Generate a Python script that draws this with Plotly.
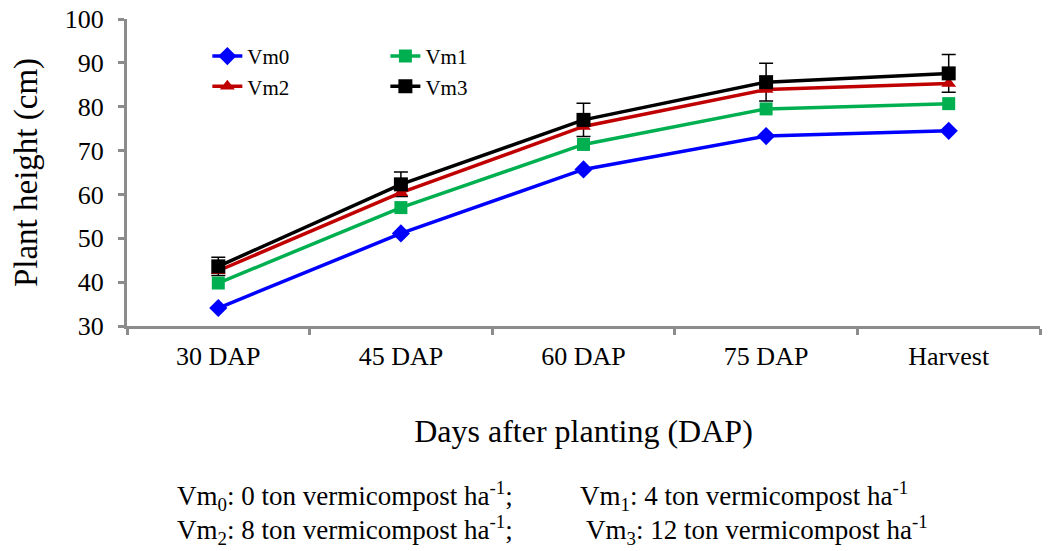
import plotly.graph_objects as go

categories = ["30 DAP", "45 DAP", "60 DAP", "75 DAP", "Harvest"]
vm0 = [34.1, 51.1, 65.7, 73.3, 74.5]
vm1 = [39.8, 57.0, 71.4, 79.5, 80.7]
vm2 = [42.6, 60.4, 75.5, 83.9, 85.3]
vm3 = [43.6, 62.3, 77.0, 85.6, 87.6]
vm3_err = [2.1, 2.8, 3.8, 4.3, 4.3]

FONT = "Liberation Serif, Times New Roman, serif"
AXIS_GRAY = "#8c8c8c"

series = [
    ("Vm0", vm0, "#0000ff", "diamond", 14, "legend"),
    ("Vm1", vm1, "#00b050", "square", 13, "legend2"),
    ("Vm2", vm2, "#c00000", "triangle-up", 13, "legend"),
    ("Vm3", vm3, "#000000", "square", 14, "legend2"),
]

fig = go.Figure()

# error bars of Vm3 (drawn beneath the lines)
fig.add_trace(go.Scatter(
    x=categories, y=vm3, mode="markers",
    marker=dict(size=1, color="rgba(0,0,0,0)"),
    error_y=dict(type="data", array=vm3_err, color="black", thickness=1.5, width=7),
    showlegend=False, hoverinfo="skip",
))

for name, vals, color, sym, size, leg in series:
    fig.add_trace(go.Scatter(
        x=categories, y=vals, name=name, mode="lines+markers",
        line=dict(color=color, width=3.5),
        marker=dict(symbol=sym, size=size, color=color),
        legend=leg,
    ))

legend_common = dict(
    font=dict(family=FONT, size=21, color="black"),
    bgcolor="rgba(0,0,0,0)", orientation="v",
    yanchor="top", xanchor="left", tracegroupgap=0, itemwidth=30,
)

fig.update_layout(
    width=1054, height=551,
    margin=dict(l=127, r=14, t=19, b=225, autoexpand=False),
    paper_bgcolor="white", plot_bgcolor="white",
    font=dict(family=FONT, color="black"),
    legend=dict(x=0.088, y=0.945, **legend_common),
    legend2=dict(x=0.283, y=0.945, **legend_common),
    xaxis=dict(
        type="category", range=[-0.5, 4.5], tickson="boundaries", ticks="outside",
        ticklen=6, tickwidth=3, tickcolor=AXIS_GRAY, ticklabelstandoff=5,
        showline=True, linewidth=3, linecolor=AXIS_GRAY,
        showgrid=False, zeroline=False,
        tickfont=dict(family=FONT, size=26, color="black"),
        title=dict(text="Days after planting (DAP)", standoff=50,
                   font=dict(family=FONT, size=32, color="black")),
    ),
    yaxis=dict(
        range=[30, 100], dtick=10, ticks="outside",
        ticklen=6, tickwidth=3, tickcolor=AXIS_GRAY, ticklabelstandoff=9,
        showline=True, linewidth=3, linecolor=AXIS_GRAY,
        showgrid=False, zeroline=False,
        tickfont=dict(family=FONT, size=26, color="black"),
        title=dict(text="Plant height (cm)", standoff=18,
                   font=dict(family=FONT, size=33, color="black")),
    ),
)

foot_font = dict(family=FONT, size=27, color="black")
notes = [
    ("Vm<sub>0</sub>: 0 ton vermicompost ha<sup>-1</sup>;", 175, 496),
    ("Vm<sub>1</sub>: 4 ton vermicompost ha<sup>-1</sup>", 578, 496),
    ("Vm<sub>2</sub>: 8 ton vermicompost ha<sup>-1</sup>;", 175, 530),
    ("Vm<sub>3</sub>: 12 ton vermicompost ha<sup>-1</sup>", 584, 530),
]
for text, px, py in notes:
    fig.add_annotation(
        text=text, xref="paper", yref="paper",
        x=(px - 127) / 913, y=(326 - py) / 307,
        xanchor="left", yanchor="middle", showarrow=False, font=foot_font,
    )

fig.write_html(
    "out.html",
    config={"displayModeBar": False},
    post_script="document.body.style.margin='0';document.body.style.overflow='hidden';",
)
